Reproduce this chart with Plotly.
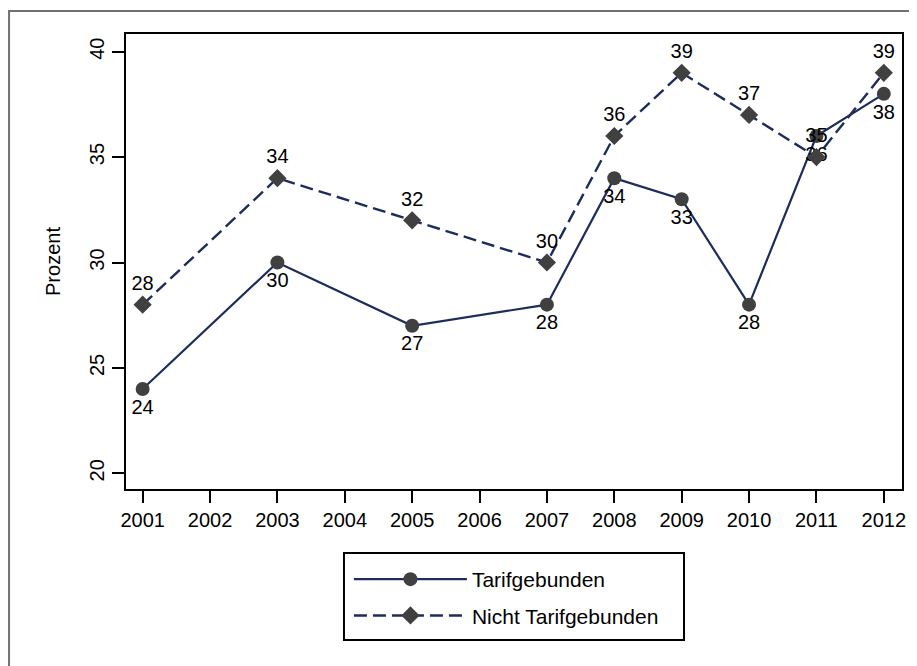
import plotly.graph_objects as go

years = [2001, 2003, 2005, 2007, 2008, 2009, 2010, 2011, 2012]
tarif = [24, 30, 27, 28, 34, 33, 28, 36, 38]
nicht = [28, 34, 32, 30, 36, 39, 37, 35, 39]
tick_years = list(range(2001, 2013))
y_ticks = [20, 25, 30, 35, 40]

FONT = "Arial, Liberation Sans, sans-serif"
LINE = "#1c2d5c"
MARK = "#404040"

fig = go.Figure()
fig.add_trace(go.Scatter(
    x=years, y=tarif, name="Tarifgebunden", mode="lines+markers+text",
    legendgroup="a",
    line=dict(color=LINE, width=2.2),
    marker=dict(symbol="circle", size=14, color=MARK),
    text=[str(v) for v in tarif], textposition="bottom center",
    textfont=dict(family=FONT, size=20, color="black"),
))
fig.add_trace(go.Scatter(
    x=years, y=nicht, name="Nicht Tarifgebunden", mode="lines+markers+text",
    legendgroup="b",
    line=dict(color=LINE, width=2.4, dash="13px,6px"),
    marker=dict(symbol="diamond", size=14, color=MARK),
    text=[str(v) for v in nicht], textposition="top center",
    textfont=dict(family=FONT, size=20, color="black"),
))

fig.update_layout(
    width=909, height=658,
    margin=dict(l=118, r=11, t=26, b=177),
    paper_bgcolor="white", plot_bgcolor="white",
    font=dict(family=FONT, size=20, color="black"),
    showlegend=True,
    legend=dict(
        x=0.2873, y=-0.1538, xanchor="left", yanchor="top",
        borderwidth=0, bgcolor="rgba(0,0,0,0)",
        font=dict(family=FONT, size=21, color="black"),
        itemwidth=113, traceorder="grouped",
        tracegroupgap=6,
    ),
    xaxis=dict(
        range=[2000.753, 2012.27], tickvals=tick_years,
        ticktext=[str(t) for t in tick_years],
        showgrid=False, zeroline=False,
        showline=True, mirror=True, linecolor="black", linewidth=2,
        ticks="outside", ticklen=12, tickwidth=2, tickcolor="black",
        tickfont=dict(family=FONT, size=20, color="black"),
    ),
    yaxis=dict(
        range=[19.255, 40.84], tickvals=y_ticks,
        showgrid=False, zeroline=False,
        showline=True, mirror=True, linecolor="black", linewidth=2,
        ticks="outside", ticklen=12, tickwidth=2, tickcolor="black",
        tickangle=-90,
        tickfont=dict(family=FONT, size=20, color="black"),
        title=dict(text="Prozent", font=dict(family=FONT, size=20, color="black"), standoff=20),
    ),
    shapes=[
        dict(
            type="rect", xref="paper", yref="paper",
            x0=-0.1507, x1=1.2, y0=-0.6, y1=1.0505,
            line=dict(color="#707070", width=2), fillcolor="rgba(0,0,0,0)", layer="below",
        ),
        dict(
            type="rect", xref="paper", yref="paper",
            x0=0.2809, x1=0.7191, y0=-0.3319, y1=-0.1407,
            line=dict(color="black", width=2), fillcolor="white", layer="below",
        ),
    ],
)

fig.write_html("out.html")
